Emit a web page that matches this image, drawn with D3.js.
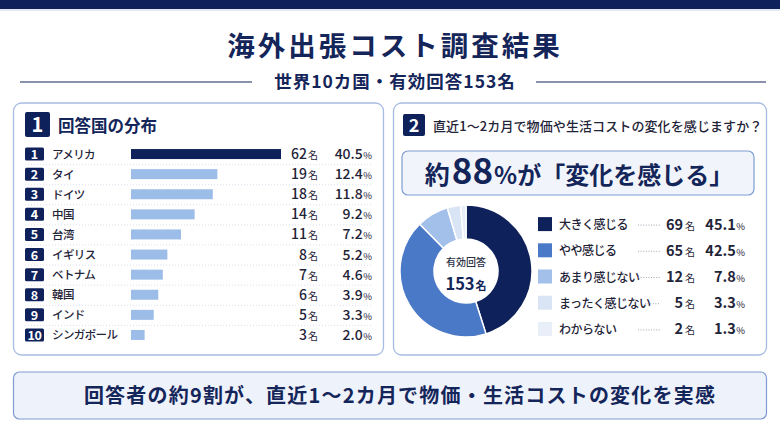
<!DOCTYPE html>
<html>
<head>
<meta charset="utf-8">
<script src="https://cdn.jsdelivr.net/npm/d3@7"></script>
<style>
  body { margin: 0; background: #ffffff; }
  svg { display: block; font-family: "Noto Sans CJK JP", "Noto Sans", sans-serif; }
</style>
</head>
<body>
<svg id="chart" width="780" height="438"></svg>
<script>
// data
const countries = ["アメリカ", "タイ", "ドイツ", "中国", "台湾", "イギリス", "ベトナム", "韓国", "インド", "シンガポール"];
const countryCounts = [62, 19, 18, 14, 11, 8, 7, 6, 5, 3];
const countryPct = [40.5, 12.4, 11.8, 9.2, 7.2, 5.2, 4.6, 3.9, 3.3, 2.0];

const answers = ["大きく感じる", "やや感じる", "あまり感じない", "まったく感じない", "わからない"];
const answerCounts = [69, 65, 12, 5, 2];
const answerPct = [45.1, 42.5, 7.8, 3.3, 1.3];
const answerColors = ["#0e215a", "#4a79c7", "#a2c0e9", "#d9e4f4", "#e9eff8"];

const totalAnswers = 153;

const navy = "#14255a";
const svg = d3.select("#chart");

// top bar
svg.append("rect").attr("x", 0).attr("y", 0).attr("width", 780).attr("height", 9).attr("fill", "#0e215a");
svg.append("line").attr("x1", 0).attr("x2", 780).attr("y1", 10).attr("y2", 10).attr("stroke", "#c9d5ea").attr("stroke-width", 1);

// title
svg.append("text").attr("x", 395).attr("y", 56).attr("text-anchor", "middle")
  .attr("font-size", 27.5).attr("font-weight", 700).attr("fill", navy).attr("letter-spacing", 3)
  .text("海外出張コスト調査結果");
svg.append("text").attr("x", 395).attr("y", 88).attr("text-anchor", "middle")
  .attr("font-size", 17.5).attr("font-weight", 700).attr("fill", navy).attr("letter-spacing", 1)
  .text("世界10カ国・有効回答153名");
[[20, 252], [536, 766]].forEach(d => {
  svg.append("line").attr("x1", d[0]).attr("x2", d[1]).attr("y1", 82).attr("y2", 82)
    .attr("stroke", navy).attr("stroke-width", 1.2);
});

// panels
function panel(x, y, w, h) {
  svg.append("rect").attr("x", x).attr("y", y).attr("width", w).attr("height", h)
    .attr("rx", 8).attr("fill", "#ffffff").attr("stroke", "#a7bce2").attr("stroke-width", 1.3);
}
panel(13.5, 103, 370, 252);
panel(393.5, 103, 373, 252);

// ---- panel 1 ----
svg.append("rect").attr("x", 25).attr("y", 112).attr("width", 25).attr("height", 25).attr("rx", 2).attr("fill", "#0e215a");
svg.append("text").attr("x", 37.5).attr("y", 132).attr("text-anchor", "middle").attr("font-size", 20)
  .attr("font-weight", 700).attr("fill", "#fff").text("1");
svg.append("text").attr("x", 58).attr("y", 132).attr("font-size", 16.5).attr("font-weight", 700)
  .attr("fill", navy).text("回答国の分布");

const yRow = d3.scaleBand().domain(d3.range(countries.length)).range([144, 345]);
const xBar = d3.scaleLinear().domain([0, 33]).range([0, 150]).clamp(true);
const barX = 131;

const rows = svg.append("g");
// separators
rows.selectAll(".sep").data(d3.range(1, countries.length)).enter().append("line")
  .attr("x1", 25).attr("x2", 373)
  .attr("y1", d => yRow(d) + 0.5).attr("y2", d => yRow(d) + 0.5)
  .attr("stroke", "#cfd8e8").attr("stroke-width", 0.8).attr("stroke-dasharray", "1,2");

const row = rows.selectAll(".row").data(countries).enter().append("g")
  .attr("transform", (d, i) => `translate(0,${yRow(i) + yRow.bandwidth() / 2})`);

row.append("rect").attr("x", 25).attr("y", -6.5).attr("width", 19).attr("height", 13).attr("rx", 1.5).attr("fill", "#0e215a");
row.append("text").attr("x", 34.5).attr("y", 5).attr("text-anchor", "middle").attr("font-size", 12.5)
  .attr("font-weight", 700).attr("fill", "#fff").attr("letter-spacing", (d, i) => i === 9 ? -0.5 : 0)
  .text((d, i) => i + 1);
row.append("text").attr("x", 52).attr("y", 4.5).attr("font-size", 11.5).attr("font-weight", 500)
  .attr("fill", "#1f2438").attr("letter-spacing", -0.6).text(d => d);
row.append("rect").attr("x", barX).attr("y", -5).attr("height", 10)
  .attr("width", (d, i) => xBar(countryCounts[i]))
  .attr("fill", (d, i) => i === 0 ? "#0e215a" : "#9dbde9");

const cnt = row.append("text").attr("x", 318).attr("y", 5).attr("text-anchor", "end").attr("fill", "#1f2438");
cnt.append("tspan").attr("font-size", 14).attr("font-weight", 500).text((d, i) => countryCounts[i]);
cnt.append("tspan").attr("font-size", 10).attr("dx", 1).text("名");
const pct = row.append("text").attr("x", 372).attr("y", 5).attr("text-anchor", "end").attr("fill", "#1f2438");
pct.append("tspan").attr("font-size", 14).attr("font-weight", 500).text((d, i) => countryPct[i].toFixed(1));
pct.append("tspan").attr("font-size", 9.5).attr("dx", 0.5).text("%");

// ---- panel 2 ----
svg.append("rect").attr("x", 403).attr("y", 114).attr("width", 22).attr("height", 22).attr("rx", 2).attr("fill", "#0e215a");
svg.append("text").attr("x", 414).attr("y", 131.5).attr("text-anchor", "middle").attr("font-size", 18)
  .attr("font-weight", 700).attr("fill", "#fff").text("2");
svg.append("text").attr("x", 433).attr("y", 131).attr("font-size", 13).attr("font-weight", 500)
  .attr("fill", "#1f2438").attr("letter-spacing", 0.1).text("直近1〜2カ月で物価や生活コストの変化を感じますか？");

svg.append("rect").attr("x", 402).attr("y", 151).attr("width", 352).attr("height", 44).attr("rx", 6)
  .attr("fill", "#f1f5fb").attr("stroke", "#7f9dd2").attr("stroke-width", 1.2);
const callout = svg.append("text").attr("x", 579).attr("y", 184).attr("text-anchor", "middle")
  .attr("font-weight", 700).attr("fill", navy);
callout.append("tspan").attr("font-size", 25).text("約");
callout.append("tspan").attr("font-size", 35).attr("dx", 2).text(Math.round(answerPct[0] + answerPct[1]));
callout.append("tspan").attr("font-size", 24).attr("dx", 1).text("%が「変化を感じる」");

// donut
const cx = 466, cy = 271;
const pie = d3.pie().sort(null).value(d => d)(answerCounts);
const arc = d3.arc().innerRadius(32).outerRadius(66);
const donut = svg.append("g").attr("transform", `translate(${cx},${cy})`);
donut.selectAll("path").data(pie).enter().append("path")
  .attr("d", arc).attr("fill", (d, i) => answerColors[i])
  .attr("stroke", "#ffffff").attr("stroke-width", 1.5);
donut.append("text").attr("y", -5).attr("text-anchor", "middle").attr("font-size", 10).attr("font-weight", 500)
  .attr("fill", "#2a2f45").text("有効回答");
const tot = donut.append("text").attr("y", 19).attr("text-anchor", "middle").attr("fill", navy).attr("font-weight", 700);
tot.append("tspan").attr("font-size", 16.5).text(totalAnswers);
tot.append("tspan").attr("font-size", 11).attr("dx", 1).text("名");

// legend
const yLeg = d3.scaleBand().domain(d3.range(answers.length)).range([211, 342]);
const leg = svg.append("g").selectAll("g").data(answers).enter().append("g")
  .attr("transform", (d, i) => `translate(0,${yLeg(i) + yLeg.bandwidth() / 2})`);
leg.append("rect").attr("x", 538).attr("y", -7).attr("width", 14).attr("height", 14)
  .attr("fill", (d, i) => answerColors[i]);
leg.append("text").attr("x", 559).attr("y", 5).attr("font-size", 12).attr("font-weight", 500)
  .attr("fill", "#1f2438").attr("letter-spacing", -0.5).text(d => d);
leg.append("line").attr("x1", (d, i) => i === 3 ? 645 : 638).attr("x2", 660).attr("y1", 1).attr("y2", 1)
  .attr("stroke", "#8a90a3").attr("stroke-width", 0.8).attr("stroke-dasharray", "1,1.6");
const lc = leg.append("text").attr("x", 695).attr("y", 5.5).attr("text-anchor", "end").attr("fill", "#1f2438");
lc.append("tspan").attr("font-size", 14.5).attr("font-weight", 700).text((d, i) => answerCounts[i]);
lc.append("tspan").attr("font-size", 10).attr("dx", 2).text("名");
const lp = leg.append("text").attr("x", 745).attr("y", 5.5).attr("text-anchor", "end").attr("fill", "#1f2438");
lp.append("tspan").attr("font-size", 14.5).attr("font-weight", 700).text((d, i) => answerPct[i].toFixed(1));
lp.append("tspan").attr("font-size", 9.5).attr("dx", 0.5).text("%");

// bottom summary
svg.append("rect").attr("x", 13.5).attr("y", 372).attr("width", 753).attr("height", 47).attr("rx", 6)
  .attr("fill", "#eef2fa").attr("stroke", "#7f9dd2").attr("stroke-width", 1.2);
svg.append("text").attr("x", 400).attr("y", 403).attr("text-anchor", "middle")
  .attr("font-size", 20).attr("font-weight", 700).attr("fill", navy).attr("letter-spacing", 1.2)
  .text("回答者の約9割が、直近1〜2カ月で物価・生活コストの変化を実感");
</script>
</body>
</html>
